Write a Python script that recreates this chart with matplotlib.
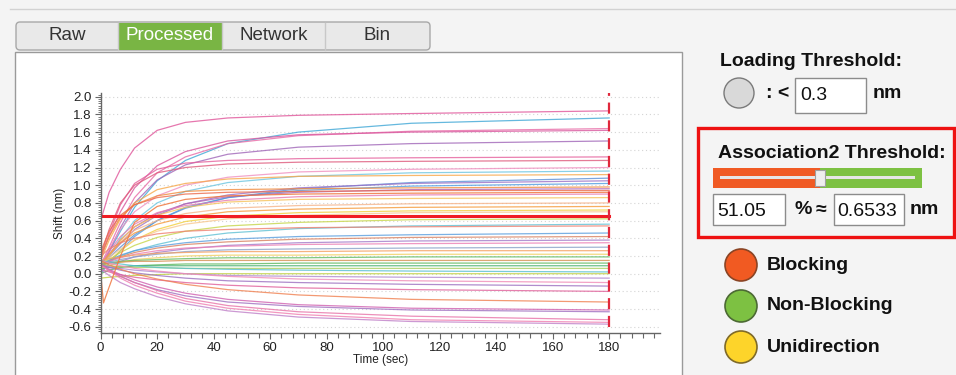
import matplotlib.pyplot as plt
from matplotlib.patches import Rectangle, Circle, FancyBboxPatch
from matplotlib.ticker import MultipleLocator

plt.rcParams['font.family'] = ['Liberation Sans', 'DejaVu Sans']
plt.rcParams['axes.unicode_minus'] = False

# ---- data ----
tabs = ['Raw', 'Processed', 'Network', 'Bin']
active_tab = 'Processed'

times = [0, 3, 7, 12, 20, 30, 45, 70, 110, 180]
curves = [
    [0.60, 0.92, 1.18, 1.42, 1.62, 1.71, 1.76, 1.79, 1.81, 1.84],
    [0.10, 0.25, 0.48, 0.75, 1.05, 1.28, 1.47, 1.60, 1.70, 1.76],
    [0.10, 0.30, 0.58, 0.86, 1.14, 1.32, 1.47, 1.56, 1.61, 1.64],
    [0.20, 0.42, 0.70, 0.97, 1.22, 1.38, 1.50, 1.57, 1.60, 1.62],
    [0.05, 0.25, 0.52, 0.80, 1.06, 1.23, 1.35, 1.43, 1.47, 1.50],
    [0.15, 0.45, 0.78, 1.02, 1.18, 1.25, 1.28, 1.30, 1.31, 1.32],
    [0.20, 0.50, 0.80, 1.00, 1.14, 1.20, 1.24, 1.26, 1.27, 1.28],
    [0.10, 0.28, 0.50, 0.70, 0.88, 1.00, 1.09, 1.15, 1.18, 1.20],
    [0.05, 0.20, 0.40, 0.60, 0.80, 0.93, 1.03, 1.10, 1.14, 1.16],
    [0.15, 0.38, 0.62, 0.80, 0.95, 1.02, 1.07, 1.10, 1.11, 1.12],
    [0.10, 0.18, 0.30, 0.44, 0.60, 0.74, 0.86, 0.96, 1.03, 1.08],
    [0.10, 0.20, 0.34, 0.50, 0.66, 0.79, 0.89, 0.97, 1.02, 1.05],
    [0.00, 0.12, 0.26, 0.42, 0.60, 0.75, 0.86, 0.94, 0.99, 1.02],
    [0.20, 0.42, 0.64, 0.78, 0.88, 0.93, 0.95, 0.96, 0.97, 0.98],
    [0.10, 0.22, 0.38, 0.53, 0.68, 0.79, 0.87, 0.92, 0.95, 0.96],
    [0.25, 0.48, 0.66, 0.78, 0.86, 0.90, 0.92, 0.93, 0.94, 0.94],
    [0.10, 0.25, 0.42, 0.56, 0.69, 0.77, 0.83, 0.87, 0.89, 0.90],
    [0.05, 0.20, 0.38, 0.53, 0.66, 0.75, 0.81, 0.84, 0.85, 0.86],
    [0.10, 0.22, 0.36, 0.49, 0.60, 0.68, 0.74, 0.77, 0.79, 0.80],
    [0.10, 0.22, 0.35, 0.46, 0.56, 0.64, 0.70, 0.73, 0.75, 0.76],
    [0.05, 0.14, 0.26, 0.38, 0.50, 0.59, 0.65, 0.69, 0.71, 0.72],
    [0.10, 0.18, 0.28, 0.38, 0.48, 0.56, 0.62, 0.66, 0.69, 0.70],
    [0.10, 0.16, 0.24, 0.32, 0.41, 0.48, 0.54, 0.58, 0.61, 0.62],
    [0.10, 0.14, 0.20, 0.26, 0.33, 0.40, 0.46, 0.51, 0.54, 0.56],
    [0.20, 0.28, 0.35, 0.40, 0.45, 0.48, 0.50, 0.52, 0.53, 0.54],
    [0.10, 0.15, 0.21, 0.26, 0.31, 0.35, 0.39, 0.42, 0.44, 0.46],
    [0.10, 0.14, 0.19, 0.24, 0.29, 0.33, 0.36, 0.39, 0.41, 0.42],
    [0.05, 0.09, 0.14, 0.19, 0.24, 0.28, 0.32, 0.35, 0.37, 0.38],
    [0.10, 0.14, 0.18, 0.22, 0.26, 0.29, 0.31, 0.33, 0.34, 0.35],
    [0.10, 0.13, 0.16, 0.19, 0.22, 0.25, 0.27, 0.28, 0.29, 0.30],
    [0.15, 0.17, 0.19, 0.21, 0.23, 0.24, 0.25, 0.25, 0.26, 0.26],
    [0.05, 0.09, 0.13, 0.16, 0.18, 0.20, 0.21, 0.21, 0.22, 0.22],
    [0.10, 0.12, 0.14, 0.15, 0.16, 0.17, 0.18, 0.18, 0.19, 0.19],
    [0.10, 0.12, 0.13, 0.14, 0.14, 0.15, 0.15, 0.15, 0.15, 0.15],
    [0.00, 0.04, 0.07, 0.09, 0.10, 0.11, 0.11, 0.12, 0.12, 0.12],
    [0.05, 0.07, 0.08, 0.09, 0.09, 0.09, 0.09, 0.09, 0.09, 0.09],
    [0.10, 0.09, 0.08, 0.07, 0.07, 0.06, 0.06, 0.06, 0.06, 0.06],
    [0.15, 0.13, 0.11, 0.09, 0.07, 0.06, 0.05, 0.04, 0.03, 0.02],
    [-0.05, -0.04, -0.03, -0.02, -0.01, 0.00, 0.00, 0.00, 0.00, 0.00],
    [0.10, 0.08, 0.06, 0.04, 0.02, 0.00, -0.02, -0.03, -0.04, -0.05],
    [0.15, 0.12, 0.09, 0.06, 0.03, 0.00, -0.03, -0.06, -0.08, -0.10],
    [0.10, 0.07, 0.04, 0.01, -0.02, -0.05, -0.08, -0.10, -0.12, -0.14],
    [0.05, 0.02, -0.01, -0.04, -0.07, -0.10, -0.13, -0.16, -0.18, -0.20],
    [0.15, 0.10, 0.05, 0.00, -0.06, -0.12, -0.18, -0.24, -0.29, -0.32],
    [0.10, 0.05, -0.01, -0.07, -0.15, -0.22, -0.29, -0.35, -0.39, -0.41],
    [0.10, 0.04, -0.03, -0.10, -0.18, -0.25, -0.32, -0.37, -0.41, -0.43],
    [0.10, 0.04, -0.03, -0.10, -0.19, -0.28, -0.36, -0.43, -0.48, -0.52],
    [0.10, 0.03, -0.05, -0.13, -0.22, -0.31, -0.39, -0.46, -0.52, -0.55],
    [0.05, -0.02, -0.10, -0.17, -0.26, -0.34, -0.42, -0.49, -0.54, -0.57],
]
curve_colors = [
    '#e0559a', '#3fa7d6', '#e86aa6', '#d9579e', '#a066b8', '#e5609c', '#de5a7c',
    '#f090c0', '#6cc5e0', '#f7a84a', '#5b8fd6', '#9a70c6', '#4f9de0', '#f08a3c',
    '#b065b5', '#ec6a4a', '#e77bb0', '#f6c25a', '#f5b48a', '#f59a3a', '#f2cf3e',
    '#f8c890', '#c6d64a', '#5fc0d4', '#ef8070', '#5a9ede', '#d88060', '#a37bc8',
    '#ec7fb5', '#8aa0c8', '#f4a060', '#f0d060', '#62bb62', '#d49050', '#5cb85c',
    '#48b070', '#a8d060', '#58bfd0', '#c0d040', '#b08ad0', '#f08cb8', '#9c70c0',
    '#e0609a', '#f08050', '#d060b0', '#a070c0', '#e873a8', '#f07fb0', '#c080c8',
]
dip_times = [0, 1, 3, 7, 12, 20, 30, 45, 70, 110, 180]
dip_values = [0.00, -0.33, -0.15, 0.20, 0.58, 0.76, 0.84, 0.88, 0.90, 0.91, 0.92]

end_time = 180
threshold_nm = 0.6533
threshold_pct = 51.05
loading_threshold = 0.3
y_ticks = [-0.6, -0.4, -0.2, 0.0, 0.2, 0.4, 0.6, 0.8, 1.0, 1.2, 1.4, 1.6, 1.8, 2.0]
x_ticks = [0, 20, 40, 60, 80, 100, 120, 140, 160, 180]
legend_labels = ['Blocking', 'Non-Blocking', 'Unidirection']
legend_colors = ['#f15a22', '#7dc142', '#fdd42a']
legend_edges = ['#8a4424', '#4c6a34', '#7f6a28']

# ---- figure, background in pixel coordinates ----
fig = plt.figure(figsize=(9.56, 3.75), dpi=100, facecolor='#f4f4f4')
bg = fig.add_axes([0, 0, 1, 1])
bg.set_xlim(0, 956)
bg.set_ylim(375, 0)
bg.axis('off')

bg.plot([10, 956], [8.5, 8.5], color='#d2d2d2', lw=1)
bg.add_patch(Rectangle((15, 52), 667, 340, fc='white', ec='#9a9a9a', lw=1))

# tab bar
bg.add_patch(FancyBboxPatch((16, 22), 414, 28, boxstyle='round,pad=0,rounding_size=4',
                            fc='#e9e9e9', ec='#a8a8a8', lw=1))
tab_edges = [16, 118, 222, 325, 430]
for i, name in enumerate(tabs):
    x0, x1 = tab_edges[i], tab_edges[i + 1]
    if name == active_tab:
        bg.add_patch(Rectangle((x0, 22.5), x1 - x0, 27.5, fc='#79b544', ec='none'))
        col = 'white'
    else:
        col = '#333333'
    if 0 < i:
        bg.plot([x0, x0], [23, 50], color='#c8c8c8', lw=1)
    bg.text((x0 + x1) / 2, 36, name, fontsize=13.5, color=col, ha='center', va='center')

# right side controls
bold = dict(fontsize=14, fontweight='bold', color='#111111', va='center', ha='left')
plain = dict(fontsize=14, color='#111111', va='center', ha='left')
bg.text(720, 61.5, 'Loading Threshold:', **bold)
bg.add_patch(Circle((739, 93), 15, fc='#d9d9d9', ec='#7a7a7a', lw=1))
bg.text(766, 93, ': <', **bold)
bg.add_patch(Rectangle((795, 78), 71, 35, fc='white', ec='#8c8c8c', lw=1))
bg.text(800, 96, f'{loading_threshold}', **plain)
bg.text(873, 94, 'nm', **bold)

bg.add_patch(Rectangle((698, 128), 256, 109, fill=False, ec='#ee1111', lw=2.4))
bg.text(718, 153, 'Association2 Threshold:', **bold)
slider_x, slider_w = 713, 209
split = slider_x + slider_w * threshold_pct / 100
bg.add_patch(Rectangle((slider_x, 168), split - slider_x, 20, fc='#f05a24', ec='none'))
bg.add_patch(Rectangle((split, 168), slider_x + slider_w - split, 20, fc='#7dc142', ec='none'))
bg.add_patch(Rectangle((720, 175.5), 195, 3, fc='#e6e6e6', ec='none'))
bg.add_patch(Rectangle((split - 5, 170), 10, 16, fc='#eeeeee', ec='#a0a0a0', lw=0.8))
bg.add_patch(Rectangle((713, 194), 72, 31, fc='white', ec='#8c8c8c', lw=1))
bg.text(717, 211, f'{threshold_pct:.2f}', **plain)
bg.text(795, 210, '%', **bold)
bg.text(816, 210, '≈', **bold)
bg.add_patch(Rectangle((834, 194), 70, 31, fc='white', ec='#8c8c8c', lw=1))
bg.text(837, 211, f'{threshold_nm:.4f}', **plain)
bg.text(910, 210, 'nm', **bold)

for i, (lab, fc, ec) in enumerate(zip(legend_labels, legend_colors, legend_edges)):
    cy = 265 + 41 * i
    bg.add_patch(Circle((741, cy), 16, fc=fc, ec=ec, lw=1.2))
    bg.text(767, cy, lab, **bold)

# ---- the sensorgram chart ----
ax = fig.add_axes([0.1053, 0.112, 0.5851, 0.640])
ax.patch.set_alpha(0)

for vals, col in zip(curves, curve_colors):
    ax.plot(times, vals, color=col, lw=0.9, alpha=0.8)
ax.plot(dip_times, dip_values, color='#f07840', lw=0.9, alpha=0.85)

ax.plot([0, end_time], [threshold_nm, threshold_nm], color='#f01c24', lw=2.2)
ax.vlines(end_time, y_ticks[0], 2.04, colors='#e0283c', linestyles=(0, (5, 3)), lw=1.6)

ax.set_xlim(0, 198)
ax.set_ylim(-0.67, 2.042)
ax.set_xticks(x_ticks)
ax.set_xticklabels([str(v) for v in x_ticks])
ax.set_yticks(y_ticks)
ax.set_yticklabels([f'{v:.1f}' for v in y_ticks])
ax.xaxis.set_minor_locator(MultipleLocator(4))
ax.yaxis.set_minor_locator(MultipleLocator(0.025))
ax.yaxis.grid(True, color='#d4d4d4', ls=(0, (1, 2.5)), lw=0.8)
ax.set_axisbelow(True)

for s in ['top', 'right']:
    ax.spines[s].set_visible(False)
for s in ['left', 'bottom']:
    ax.spines[s].set_color('#666666')
    ax.spines[s].set_linewidth(1)

ax.tick_params(which='major', labelsize=9.5, colors='#666666', labelcolor='#222222',
               length=4, width=0.8, pad=2.5)
ax.tick_params(axis='x', which='minor', length=3.5, width=0.8, colors='#666666')
ax.tick_params(axis='y', which='minor', length=2.2, width=0.6, colors='#666666')

ax.set_xlabel('Time (sec)', fontsize=8.5, color='#222222', labelpad=0)
ax.set_ylabel('Shift (nm)', fontsize=8.5, color='#222222', labelpad=2)

fig.savefig('out.png', dpi=100, facecolor=fig.get_facecolor())
